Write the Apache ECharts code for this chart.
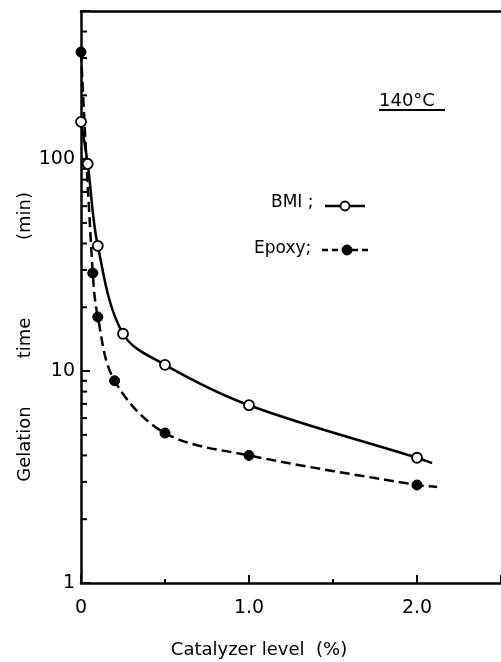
<!DOCTYPE html>
<html>
<head>
<meta charset="utf-8">
<script src="https://cdn.jsdelivr.net/npm/echarts@6/dist/echarts.min.js"></script>
<style>
html,body{margin:0;padding:0;background:#fff;}
#c{width:501px;height:662px;}
</style>
</head>
<body>
<div id="c"></div>
<script>
// Data (x: catalyzer level %, y: gelation time min)
const bmiX = [0, 0.04, 0.1, 0.25, 0.5, 1.0, 2.0];
const bmiY = [150, 95, 39, 15, 10.7, 6.9, 3.9];
const bmiEnd = [2.09, 3.68];           // curve continues past last point
const epoxyX = [0, 0.07, 0.1, 0.2, 0.5, 1.0, 2.0];
const epoxyY = [320, 29, 18, 9.0, 5.1, 4.0, 2.9];
const epoxyEnd = [2.12, 2.84];
const xTickValues = [0, 1, 2];
const yTickValues = [1, 10, 100];
const yMinorFactors = [2, 3, 4, 5, 6, 7, 8, 9];

const FONT = 'DejaVu Sans';

function build(xs, ys, end) {
  const d = xs.map((x, i) => [x, ys[i]]);
  d.push({ value: end, symbol: 'none' });
  return d;
}

const minorData = [];
yTickValues.forEach(d => yMinorFactors.forEach(f => { if (d * f <= 500) minorData.push([0, d * f]); }));

const chart = echarts.init(document.getElementById('c'), null, { renderer: 'canvas' });
chart.setOption({
  animation: false,
  backgroundColor: '#fff',
  grid: { left: 81, top: 11, width: 425, height: 572 },
  xAxis: [{
    type: 'value', min: 0, max: 2.5, interval: 1,
    axisLine: { lineStyle: { color: '#000', width: 2.5 } },
    axisTick: { inside: true, length: 8, lineStyle: { color: '#000', width: 2 } },
    minorTick: { show: true, splitNumber: 2, length: 4, lineStyle: { color: '#000', width: 2 } },
    splitLine: { show: false },
    axisLabel: {
      margin: 16, color: '#000', fontFamily: FONT, fontSize: 19, showMaxLabel: false,
      formatter: v => (v === 0 ? '0' : v.toFixed(1))
    }
  }, {
    type: 'value', min: 0, max: 2.5, position: 'top',
    axisLine: { show: true, onZero: false, lineStyle: { color: '#000', width: 2.5 } },
    axisTick: { show: false }, axisLabel: { show: false }, splitLine: { show: false }
  }],
  yAxis: {
    type: 'log', logBase: 10, min: 1, max: 500,
    axisLine: { show: true, lineStyle: { color: '#000', width: 2.5 } },
    axisTick: { inside: true, length: 9, lineStyle: { color: '#000', width: 2 } },
    splitLine: { show: false },
    axisLabel: {
      margin: 6, color: '#000', fontFamily: FONT, fontSize: 19,
      formatter: v => (yTickValues.indexOf(Math.round(v)) >= 0 && Math.abs(v - Math.round(v)) < 1e-6 ? String(Math.round(v)) : '')
    }
  },
  series: [
    {
      name: 'BMI', type: 'line', smooth: 0.35, clip: false,
      data: build(bmiX, bmiY, bmiEnd),
      symbol: 'circle', symbolSize: 10,
      itemStyle: { color: '#fff', borderColor: '#000', borderWidth: 1.8 },
      lineStyle: { color: '#000', width: 2.5 }, z: 3
    },
    {
      name: 'Epoxy', type: 'line', smooth: 0.35, clip: false,
      data: build(epoxyX, epoxyY, epoxyEnd),
      symbol: 'circle', symbolSize: 10,
      itemStyle: { color: '#000', borderColor: '#000', borderWidth: 1 },
      lineStyle: { color: '#000', width: 2.5, type: [10, 5] }, z: 3
    },
    {
      type: 'custom', silent: true, clip: false,
      data: minorData,
      renderItem: (params, api) => {
        const p = api.coord([api.value(0), api.value(1)]);
        return { type: 'line', shape: { x1: p[0], y1: p[1], x2: p[0] + 6, y2: p[1] }, style: { stroke: '#000', lineWidth: 2 } };
      }
    }
  ],
  graphic: [
    { type: 'text', left: 379, top: 92, style: { text: '140°C', font: '18px "' + FONT + '"', fill: '#000' } },
    { type: 'line', shape: { x1: 379, y1: 110, x2: 445, y2: 110 }, style: { stroke: '#000', lineWidth: 2 } },
    { type: 'text', left: 271, top: 194, style: { text: 'BMI ;', font: '17px "' + FONT + '"', fill: '#000' } },
    { type: 'line', shape: { x1: 325, y1: 206, x2: 365, y2: 206 }, style: { stroke: '#000', lineWidth: 2.5 } },
    { type: 'circle', shape: { cx: 345, cy: 206, r: 4.5 }, style: { fill: '#fff', stroke: '#000', lineWidth: 1.8 } },
    { type: 'text', left: 254, top: 240, style: { text: 'Epoxy;', font: '17px "' + FONT + '"', fill: '#000' } },
    { type: 'line', shape: { x1: 322, y1: 250, x2: 370, y2: 250 }, style: { stroke: '#000', lineWidth: 2.5, lineDash: [6, 4] } },
    { type: 'circle', shape: { cx: 347, cy: 250, r: 5 }, style: { fill: '#000', stroke: '#000' } },
    { type: 'text', x: 259, y: 650, style: { text: 'Catalyzer level  (%)', font: '18px "' + FONT + '"', fill: '#000', textAlign: 'center', textVerticalAlign: 'middle' } },
    { type: 'text', x: 25, y: 444, rotation: Math.PI / 2, style: { text: 'Gelation', font: '18px "' + FONT + '"', fill: '#000', textAlign: 'center', textVerticalAlign: 'middle' } },
    { type: 'text', x: 25, y: 338, rotation: Math.PI / 2, style: { text: 'time', font: '18px "' + FONT + '"', fill: '#000', textAlign: 'center', textVerticalAlign: 'middle' } },
    { type: 'text', x: 25, y: 216, rotation: Math.PI / 2, style: { text: '(min)', font: '18px "' + FONT + '"', fill: '#000', textAlign: 'center', textVerticalAlign: 'middle' } }
  ]
});
</script>
</body>
</html>
